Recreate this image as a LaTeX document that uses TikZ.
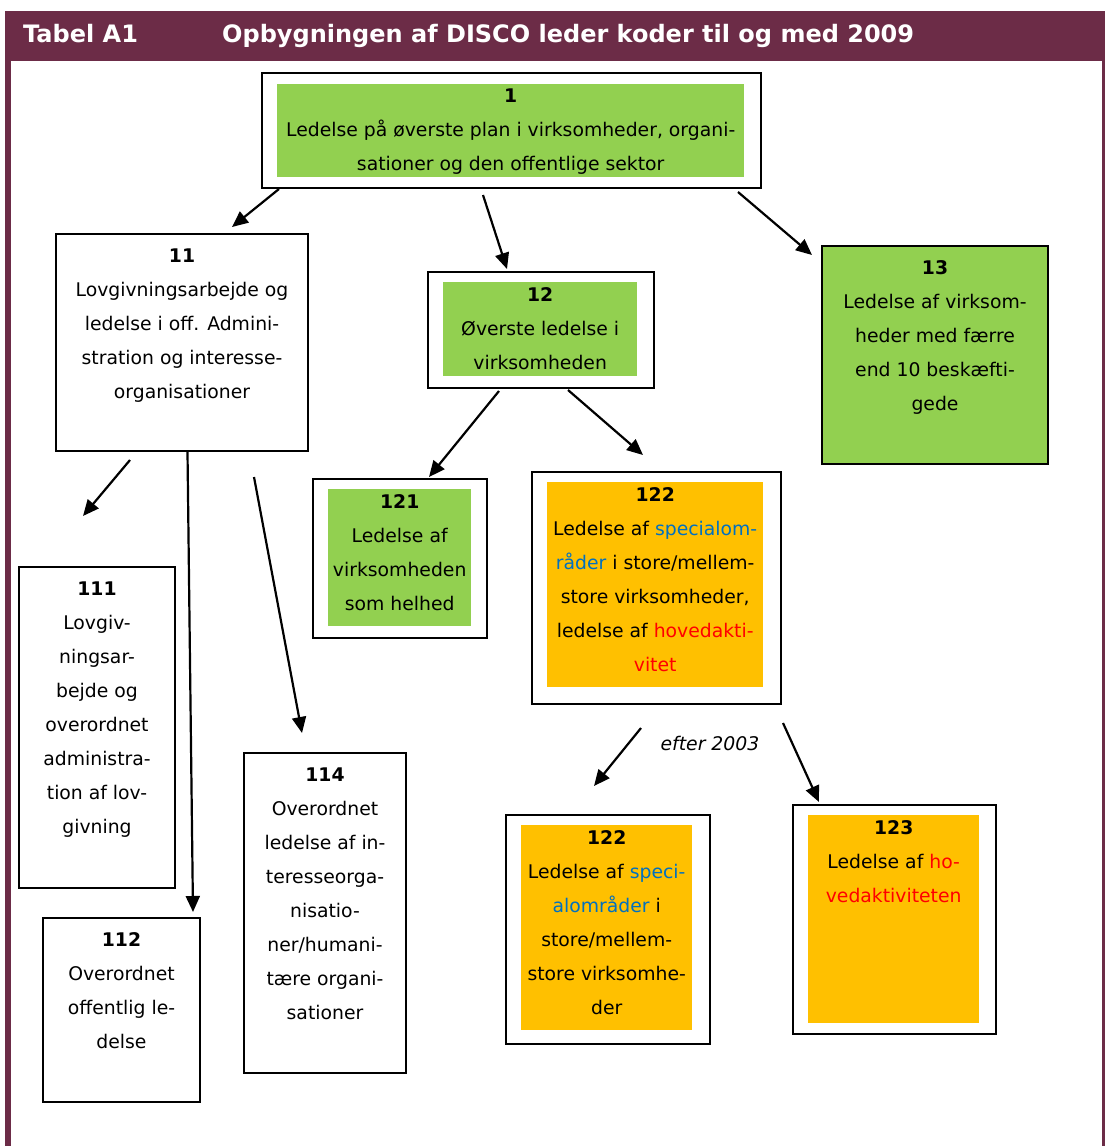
\documentclass[tikz,border=0pt]{standalone}
\usepackage{fontspec}
\setmainfont{DejaVu Sans}
\usetikzlibrary{arrows.meta, positioning, calc}
\definecolor{headmaroon}{RGB}{108,44,71}
\definecolor{topgreen}{RGB}{146,208,80}
\definecolor{subamber}{RGB}{255,192,0}
\definecolor{termblue}{RGB}{0,112,192}
\definecolor{termred}{RGB}{255,0,0}
\newcommand{\bluetxt}[1]{\textcolor{termblue}{#1}}
\newcommand{\redtxt}[1]{\textcolor{termred}{#1}}

\begin{document}
\begin{tikzpicture}[
    x=1pt, y=-1pt,
    box/.style={rectangle, draw, line width=2pt, anchor=north west, inner sep=0pt},
    fillbox/.style={rectangle, fill=#1, anchor=north west, inner sep=0pt},
    txt/.style={align=center, inner sep=0pt, anchor=north, font=\fontsize{18.8}{34}\selectfont},
    title/.style={inner sep=0pt, anchor=base west, text=white, font=\fontsize{24}{28}\selectfont\bfseries},
    arrow/.style={-{Triangle[length=16pt, width=14pt]}, line width=2.2pt}
]
\useasboundingbox (0,0) rectangle (1105,1146);

% Frame and heading
\fill[headmaroon] (5,11) rectangle (1105,61);
\fill[headmaroon] (5,61) rectangle (11,1146);
\fill[headmaroon] (1102,61) rectangle (1105,1146);
\node[title] (tabno) at (23,42) {Tabel A1};
\node[title] (tabtitle) at (222,42) {Opbygningen af DISCO leder koder til og med 2009};

% Level 1
\node[box, minimum width=499, minimum height=115] (f1) at (261,72) {};
\node[fillbox=topgreen, minimum width=467, minimum height=93] (b1) at (277,84) {};
\node[txt, below=5pt of b1.north] (t1) {\textbf{1}\\Ledelse på øverste plan i virksomheder, organi-\\sationer og den offentlige sektor};

% Level 2
\node[box, minimum width=252, minimum height=217] (b11) at (55,233) {};
\node[txt, below=15.5pt of b11.north] (t11) {\textbf{11}\\Lovgivningsarbejde og\\ledelse i off. Admini-\\stration og interesse-\\organisationer};

\node[box, minimum width=226, minimum height=116] (f12) at (427,271) {};
\node[fillbox=topgreen, minimum width=194, minimum height=94] (b12) at (443,282) {};
\node[txt, below=5pt of b12.north] (t12) {\textbf{12}\\Øverste ledelse i\\virksomheden};

\node[box, fill=topgreen, minimum width=226, minimum height=218] (b13) at (821,245) {};
\node[txt, below=15.5pt of b13.north] (t13) {\textbf{13}\\Ledelse af virksom-\\heder med færre\\end 10 beskæfti-\\gede};

% Level 3 under 12
\node[box, minimum width=174, minimum height=159] (f121) at (312,478) {};
\node[fillbox=topgreen, minimum width=143, minimum height=137] (b121) at (328,489) {};
\node[txt, below=5pt of b121.north] (t121) {\textbf{121}\\Ledelse af\\virksomheden\\som helhed};

\node[box, minimum width=249, minimum height=232] (f122) at (531,471) {};
\node[fillbox=subamber, minimum width=216, minimum height=205] (b122) at (547,482) {};
\node[txt, below=5pt of b122.north] (t122) {\textbf{122}\\Ledelse af \bluetxt{specialom-}\\\bluetxt{råder} i store/mellem-\\store virksomheder,\\ledelse af \redtxt{hovedakti-}\\\redtxt{vitet}};

% Level 3 under 11
\node[box, minimum width=156, minimum height=321] (b111) at (18,566) {};
\node[txt, below=15.5pt of b111.north] (t111) {\textbf{111}\\Lovgiv-\\ningsar-\\bejde og\\overordnet\\administra-\\tion af lov-\\givning};

\node[box, minimum width=157, minimum height=184] (b112) at (42,917) {};
\node[txt, below=15.5pt of b112.north] (t112) {\textbf{112}\\Overordnet\\offentlig le-\\delse};

\node[box, minimum width=162, minimum height=320] (b114) at (243,752) {};
\node[txt, below=15.5pt of b114.north] (t114) {\textbf{114}\\Overordnet\\ledelse af in-\\teresseorga-\\nisatio-\\ner/humani-\\tære organi-\\sationer};

% After 2003
\node[box, minimum width=204, minimum height=229] (f122n) at (505,814) {};
\node[fillbox=subamber, minimum width=171, minimum height=205] (b122n) at (521,825) {};
\node[txt, below=5pt of b122n.north] (t122n) {\textbf{122}\\Ledelse af \bluetxt{speci-}\\\bluetxt{alområder} i\\store/mellem-\\store virksomhe-\\der};

\node[box, minimum width=203, minimum height=229] (f123) at (792,804) {};
\node[fillbox=subamber, minimum width=171, minimum height=208] (b123) at (808,815) {};
\node[txt, below=5pt of b123.north] (t123) {\textbf{123}\\Ledelse af \redtxt{ho-}\\\redtxt{vedaktiviteten}};

\node[inner sep=0pt, font=\fontsize{18.8}{22}\selectfont\itshape] (lbl2003) at (710,743) {efter 2003};

% Arrows
\draw[arrow] ($(f1.south west)+(18,0)$) -- ($(b11.north west)+(177,-6)$);
\draw[arrow] ($(f1.south west)+(222,6)$) -- ($(f12.north west)+(80,-2)$);
\draw[arrow] ($(f1.south east)+(-24,3)$) -- ($(b13.north west)+(-9,10)$);
\draw[arrow] ($(b11.south west)+(75,8)$) -- ($(b111.north west)+(65,-50)$);
\draw[arrow] ($(b11.south west)+(132.5,0)$) -- ($(b112.north west)+(151,-5)$);
\draw[arrow] ($(b11.south west)+(199,25)$) -- ($(b114.north west)+(59,-19)$);
\draw[arrow] ($(f12.south west)+(72,2)$) -- ($(f121.north west)+(117,-1)$);
\draw[arrow] ($(f12.south west)+(141,1)$) -- ($(f122.north west)+(112,-16)$);
\draw[arrow] ($(f122.south west)+(110,23)$) -- ($(f122n.north west)+(89,-28)$);
\draw[arrow] ($(f122.south west)+(252,18)$) -- ($(f123.north west)+(27,-2)$);

\end{tikzpicture}
\end{document}
